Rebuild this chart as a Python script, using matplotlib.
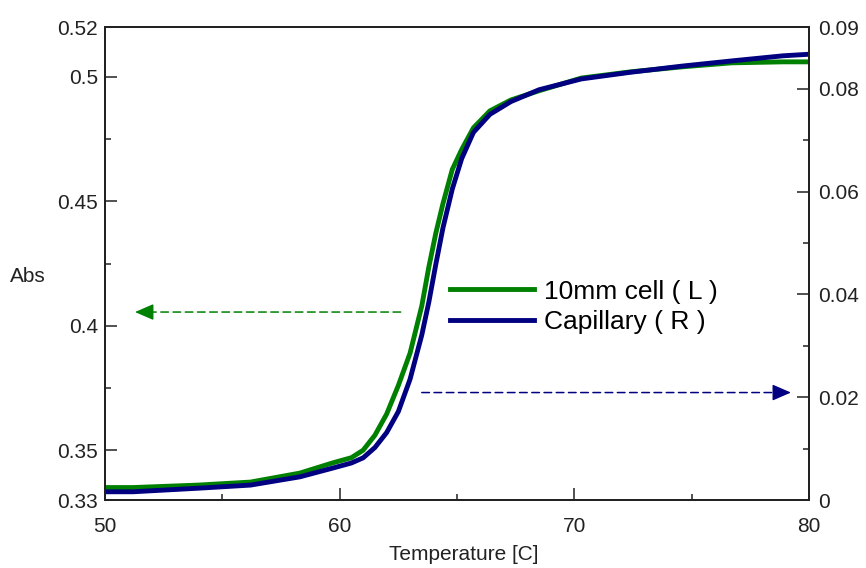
import matplotlib.pyplot as plt
from matplotlib.ticker import MultipleLocator

# temperatura (C)
temp = [50, 51.2, 54, 56.2, 58.3, 59.7, 60.5, 61.0, 61.5, 62.0, 62.5, 63.0, 63.5, 63.8,
        64.1, 64.4, 64.8, 65.2, 65.7, 66.4, 67.3, 68.5, 70.3, 72.4, 74.6, 76.7, 78.9, 80]

# cela 10mm, eixo esquerdo
abs_cell = [0.335, 0.335, 0.336, 0.3372, 0.3408, 0.3449, 0.347, 0.350, 0.356, 0.3645,
            0.376, 0.389, 0.408, 0.4236, 0.4373, 0.449, 0.4628, 0.4708, 0.4795, 0.4863,
            0.4907, 0.4944, 0.4995, 0.502, 0.504, 0.5056, 0.506, 0.506]

# capilar, eixo direito
abs_cap = [0.0016, 0.0016, 0.0023, 0.0029, 0.0045, 0.0062, 0.0072, 0.0082, 0.0102,
           0.0131, 0.0172, 0.0235, 0.0321, 0.0385, 0.0459, 0.0529, 0.0605, 0.0664,
           0.0715, 0.0750, 0.0775, 0.0798, 0.0819, 0.0832, 0.0844, 0.0854, 0.0864, 0.0867]

nomes = ['10mm cell ( L )', 'Capillary ( R )']

verde = '#008000'
azul = '#000080'
cinza = '#222222'

plt.rcParams['font.family'] = ['Liberation Sans', 'DejaVu Sans']

fig = plt.figure(figsize=(8.66, 5.68), dpi=100)
ax = fig.add_axes([105 / 866, 68 / 568, 704 / 866, 473 / 568])
ax2 = ax.twinx()

l1, = ax.plot(temp, abs_cell, color=verde, lw=3.5, solid_joinstyle='round')
l2, = ax2.plot(temp, abs_cap, color=azul, lw=3.5, solid_joinstyle='round')

ax.set_xlim(50, 80)
ax.set_ylim(0.33, 0.52)
ax2.set_ylim(0, 0.092)

ax.set_xticks([50, 60, 70, 80])
ax.xaxis.set_minor_locator(MultipleLocator(5))
ax.set_yticks([0.33, 0.35, 0.4, 0.45, 0.5, 0.52])
ax.set_yticklabels(['0.33', '0.35', '0.4', '0.45', '0.5', '0.52'])
ax.set_yticks([0.375, 0.425, 0.475], minor=True)
ax2.set_yticks([0, 0.02, 0.04, 0.06, 0.08, 0.092])
ax2.set_yticklabels(['0', '0.02', '0.04', '0.06', '0.08', '0.09'])
ax2.set_yticks([0.01, 0.03, 0.05, 0.07], minor=True)

for a in (ax, ax2):
    a.tick_params(which='both', direction='in', width=1.1, color=cinza,
                  labelcolor=cinza, labelsize=15)
    a.tick_params(which='major', length=8.6)
    a.tick_params(which='minor', length=4.3)
    for s in a.spines.values():
        s.set_linewidth(1.4)
        s.set_color(cinza)
ax.tick_params(axis='x', pad=12)
ax.tick_params(axis='y', pad=5)
ax2.tick_params(axis='y', pad=6.5)

# setas tracejadas
ax.annotate('', xy=(51.96, 0.4055), xytext=(62.6, 0.4055),
            arrowprops=dict(arrowstyle='-', color=verde, lw=1.1, ls=(0, (5, 3)),
                            shrinkA=0, shrinkB=0))
ax.annotate('', xy=(51.28, 0.4055), xytext=(51.96, 0.4055),
            arrowprops=dict(arrowstyle='-|>,head_length=1.15,head_width=0.5',
                            color=verde, lw=1, shrinkA=0, shrinkB=0))
ax2.annotate('', xy=(78.55, 0.0209), xytext=(63.5, 0.0209),
             arrowprops=dict(arrowstyle='-', color=azul, lw=1.1, ls=(0, (5, 3)),
                             shrinkA=0, shrinkB=0))
ax2.annotate('', xy=(79.23, 0.0209), xytext=(78.55, 0.0209),
             arrowprops=dict(arrowstyle='-|>,head_length=1.15,head_width=0.5',
                             color=azul, lw=1, shrinkA=0, shrinkB=0))

ax2.legend([l1, l2], nomes, loc='center left', bbox_to_anchor=(0.49, 0.408),
           frameon=False, fontsize=19, handlelength=3.2, handletextpad=0.38,
           labelspacing=0.25, borderpad=0, borderaxespad=0)

fig.text(10 / 866, 1 - 276 / 568, 'Abs', ha='left', va='center', fontsize=15, color=cinza)
fig.text(464 / 866, 1 - 555 / 568, 'Temperature [C]', ha='center', va='center',
         fontsize=15, color=cinza)

fig.savefig('out.png', dpi=100)
